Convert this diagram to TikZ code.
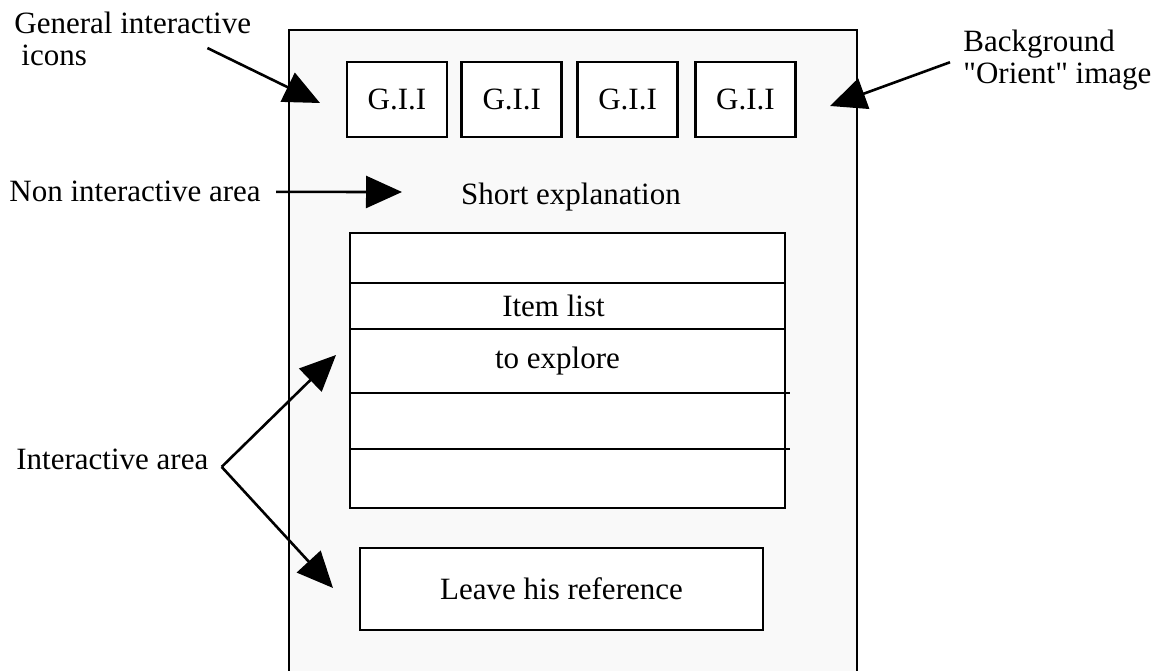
\documentclass[tikz,border=0pt]{standalone}
\usepackage{fontspec}
\setmainfont{Liberation Serif}[Ligatures=TeXOff]
\usepackage{xcolor}
\usetikzlibrary{arrows.meta,positioning}
\definecolor{ScreenGray}{RGB}{249,249,249}

\begin{document}
\begin{tikzpicture}[x=1pt, y=-1pt, line width=2.8pt,
  every node/.style={font=\fontsize{31}{31.5}\selectfont, inner sep=0pt},
  giibox/.style={draw, fill=white, minimum width=100pt, minimum height=75pt},
  listrow/.style={draw, fill=white, outer sep=0pt, minimum width=435pt},
  pointer/.style={-{Triangle[length=36pt, width=32pt]}, line width=2.6pt}]
\useasboundingbox (0,0) rectangle (1167,671);

% screen (open at the bottom)
\fill[ScreenGray] (289,30) rectangle (857,671);
\draw (289,671) -- (289,30) -- (857,30) -- (857,671);

% icon row
\node[giibox] (gii1) at (397,99.5) {G.I.I};
\node[giibox, right=12pt of gii1] (gii2) {G.I.I};
\node[giibox, right=13pt of gii2] (gii3) {G.I.I};
\node[giibox, right=15pt of gii3] (gii4) {G.I.I};

\node[anchor=base] (shortexp) at (571,205) {Short explanation};

% item list
\node[listrow, minimum height=50pt] (row1) at (567.5,258) {};
\node[listrow, minimum height=46pt, below=0pt of row1] (row2) {\hspace*{-28pt}Item list};
\node[listrow, minimum height=64pt, below=0pt of row2] (row3) {\hspace*{-20pt}to explore};
\node[listrow, minimum height=56pt, below=0pt of row3] (row4) {};
\node[listrow, minimum height=59pt, below=0pt of row4] (row5) {};
\draw (row4.north east) -- ++(5,0);
\draw (row5.north east) -- ++(5,0);

\node[draw, fill=white, minimum width=403pt, minimum height=82pt] (leave) at (561.5,589) {Leave his reference};

% labels
\node[anchor=north west, align=left] (genlbl) at (13,11) {General interactive\\\hspace*{7pt}icons};
\node[anchor=north west, align=left] (bglbl) at (962,29) {Background\\"Orient" image};
\node[anchor=base west] (nonlbl) at (8,202) {Non interactive area};
\node[anchor=base west] (ialbl) at (15,469) {Interactive area};

\coordinate (giiTip) at (320,103);
\coordinate (bgTip) at (830,106);
\coordinate (naTip) at (402,192);
\coordinate (iaFork) at ([shift={(12,8)}]ialbl.east);
\coordinate (iaTop) at (336,355);
\coordinate (iaBot) at (333,588);

\draw[pointer] ([shift={(-45,9)}]genlbl.east) -- (giiTip);
\draw[pointer] ([shift={(-12,2)}]bglbl.west) -- (bgTip);
\draw[pointer] ([xshift=14pt]nonlbl.east) -- (naTip);
\draw[pointer] (iaFork) -- (iaTop);
\draw[pointer] (iaFork) -- (iaBot);
\end{tikzpicture}
\end{document}
